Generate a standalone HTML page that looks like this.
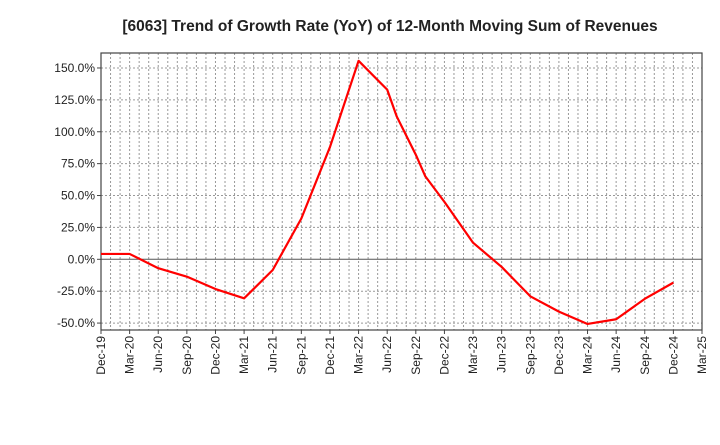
<!DOCTYPE html>
<html><head><meta charset="utf-8"><style>
body{margin:0;background:#fff;font-family:"Liberation Sans",Arial,sans-serif}
svg text{font-family:"Liberation Sans",Arial,sans-serif}
</style></head><body>
<svg id="c" width="720" height="440">
<text x="390" y="31" text-anchor="middle" font-size="15.5" font-weight="bold" fill="#222">[6063]  Trend of Growth Rate (YoY) of 12-Month Moving Sum of Revenues</text>
<g id="grid"></g><g id="axes"></g><g id="series"></g>
</svg>
<script>
const monthIdx=[0,3,6,9,12,15,18,21,24,27,30,31,33,34,36,39,42,45,48,51,54,57,60];
const values=[4.2,4.2,-7,-13.6,-23.3,-30.6,-8.4,32,88,155.6,133,112,82,65,45,13,-6,-29,-41,-50.7,-47,-31,-18.3];
const xTickLabels=["Dec-19","Mar-20","Jun-20","Sep-20","Dec-20","Mar-21","Jun-21","Sep-21","Dec-21","Mar-22","Jun-22","Sep-22","Dec-22","Mar-23","Jun-23","Sep-23","Dec-23","Mar-24","Jun-24","Sep-24","Dec-24","Mar-25"];
const yTicks=[-50,-25,0,25,50,75,100,125,150];
const L=101,R=702,T=53,B=330;
const xs=m=>L+(R-L)*m/63;
const ys=v=>259.3-v*1.2755;
const NS="http://www.w3.org/2000/svg";
function mk(t,a,p){const e=document.createElementNS(NS,t);for(const k in a)e.setAttribute(k,a[k]);p.appendChild(e);return e;}
const g=document.getElementById('grid'),ax=document.getElementById('axes'),s=document.getElementById('series');
for(let m=1;m<63;m++){const l=mk('line',{x1:xs(m),x2:xs(m),y1:T,y2:B,stroke:'#999','stroke-dasharray':'2,2','stroke-width':1},g);

}
yTicks.forEach(v=>{const y=ys(v);
const l=mk('line',{x1:L,x2:R,y1:y,y2:y,stroke:v===0?'#555':'#999','stroke-dasharray':v===0?'':'2,2','stroke-width':1},g);


const t=mk('text',{x:L-6,y:y+4,'text-anchor':'end','font-size':12,fill:'#222'},ax);t.textContent=v.toFixed(1)+'%';


mk('line',{x1:L-4,x2:L,y1:y,y2:y,stroke:'#444'},ax);});
xTickLabels.forEach((lab,i)=>{const x=xs(i*3);
mk('line',{x1:x,x2:x,y1:B,y2:B+4,stroke:'#444'},ax);
const t=mk('text',{x:0,y:0,'text-anchor':'end','font-size':12,fill:'#222',transform:`translate(${x+4},${B+6}) rotate(-90)`},ax);t.textContent=lab;

});
const f=mk('rect',{x:L,y:T,width:R-L,height:B-T,fill:'none',stroke:'#444','stroke-width':1.2},ax);


const p=mk('polyline',{points:monthIdx.map((m,i)=>xs(m)+','+ys(values[i])).join(' '),fill:'none',stroke:'#f00','stroke-width':2.2,'stroke-linejoin':'round'},s);


</script>
</body></html>
